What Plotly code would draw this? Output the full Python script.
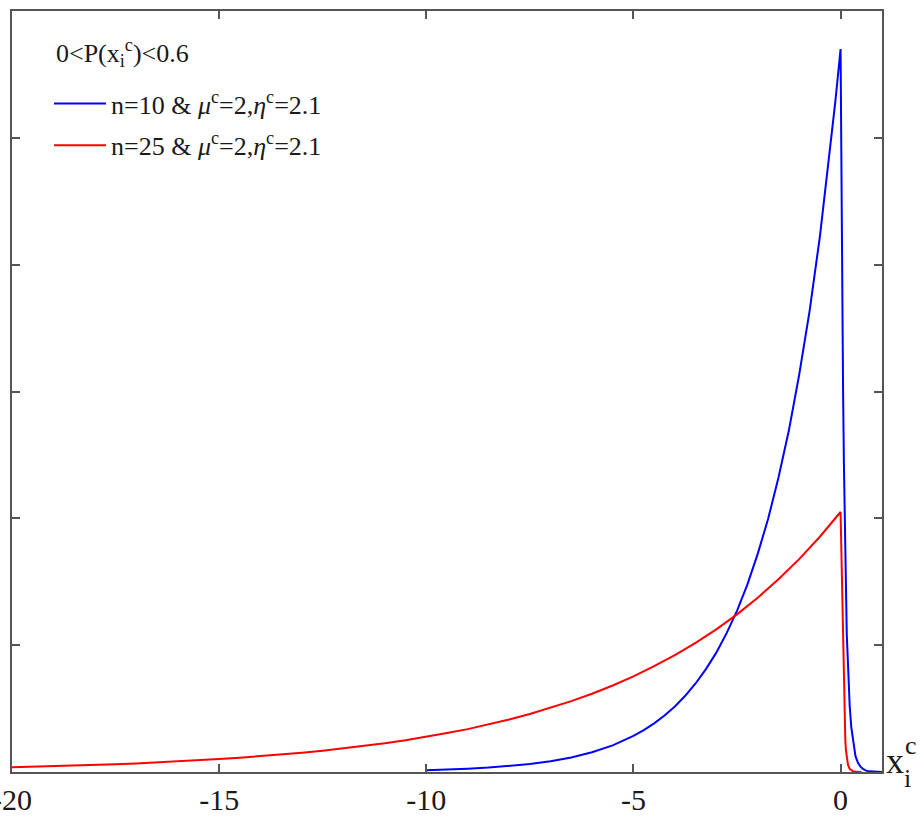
import plotly.graph_objects as go

# ---- data ----
blue_x = [-10, -9.5, -9, -8.5, -8, -7.5, -7, -6.5, -6, -5.5, -5, -4.75, -4.5, -4.25, -4,
          -3.75, -3.5, -3.25, -3, -2.75, -2.5, -2.25, -2, -1.75, -1.5, -1.25, -1, -0.75,
          -0.5, -0.25, -0.125, 0,
          0.02, 0.04, 0.06, 0.08, 0.1, 0.125, 0.15, 0.18, 0.22, 0.26, 0.3, 0.36, 0.42,
          0.48, 0.54, 0.62, 0.7, 0.85, 1.0]
blue_y = [0.0014, 0.0019, 0.0026, 0.0035, 0.0047, 0.0063, 0.0085, 0.0115, 0.0156, 0.021,
          0.0284, 0.033, 0.0383, 0.0445, 0.0517, 0.0601, 0.0698, 0.0811, 0.0941, 0.1095,
          0.127, 0.1477, 0.172, 0.1994, 0.232, 0.269, 0.313, 0.363, 0.422, 0.491, 0.529,
          0.57,
          0.461, 0.373, 0.302, 0.244, 0.195, 0.152, 0.108, 0.0845, 0.052, 0.035, 0.0256,
          0.0125, 0.0072, 0.0042, 0.0025, 0.0011, 0.0005, 0.0001, 0.0]

red_x = [-20, -19.5, -19, -18.5, -18, -17.5, -17, -16.5, -16, -15.5, -15, -14.5, -14,
         -13.5, -13, -12.5, -12, -11.5, -11, -10.5, -10, -9.5, -9, -8.5, -8, -7.5, -7,
         -6.5, -6, -5.5, -5, -4.5, -4, -3.5, -3, -2.5, -2, -1.5, -1, -0.5, 0,
         0.015, 0.03, 0.045, 0.06, 0.075, 0.09, 0.114, 0.13, 0.15, 0.18, 0.22, 0.3, 0.4, 0.5]
red_y = [0.00375, 0.00415, 0.0046, 0.00507, 0.0056, 0.00619, 0.0068, 0.00756, 0.0084,
         0.00924, 0.0102, 0.01128, 0.0125, 0.01378, 0.0152, 0.01683, 0.0186, 0.02056,
         0.0227, 0.0251, 0.0277, 0.0307, 0.0338, 0.0375, 0.0414, 0.0457, 0.0506, 0.0559,
         0.0617, 0.0682, 0.0754, 0.0834, 0.0921, 0.1018, 0.1125, 0.1243, 0.1374, 0.1519,
         0.1678, 0.1855, 0.205,
         0.178, 0.15, 0.125, 0.104, 0.075, 0.05, 0.0256, 0.017, 0.011, 0.0055, 0.0025,
         0.0006, 0.0001, 0.0]

x_ticks = [-20, -15, -10, -5, 0]
y_ticks = [0, 0.1, 0.2, 0.3, 0.4, 0.5, 0.6]

legend_title = "0&lt;P(x<sub>i</sub><sup>c</sup>)&lt;0.6"
name_blue = "n=10 &amp; <i>μ</i><sup>c</sup>=2,<i>η</i><sup>c</sup>=2.1"
name_red = "n=25 &amp; <i>μ</i><sup>c</sup>=2,<i>η</i><sup>c</sup>=2.1"

FONT = "Liberation Serif, Times New Roman, Times, serif"
AX = "#555555"
TXT = "#1a1a1a"

fig = go.Figure()
fig.add_trace(go.Scatter(x=blue_x, y=blue_y, mode="lines", name=name_blue,
                         legendgroup="a", line=dict(color="#0000FF", width=2)))
fig.add_trace(go.Scatter(x=red_x, y=red_y, mode="lines", name=name_red,
                         legendgroup="b", line=dict(color="#FF0000", width=2)))

W, H = 924, 816
L, R, T, B = 12, 42, 11, 44
pw = W - L - R
ph = H - T - B

def px(xp):
    return (xp - L) / pw

def py(yp):
    return 1 - (yp - T) / ph

fig.update_layout(
    width=W, height=H,
    margin=dict(l=L, r=R, t=T, b=B, autoexpand=False),
    paper_bgcolor="white", plot_bgcolor="white",
    font=dict(family=FONT, color=TXT),
    showlegend=True,
    legend=dict(
        x=px(49), y=py(80), xanchor="left", yanchor="top",
        bgcolor="rgba(0,0,0,0)", borderwidth=0,
        font=dict(family=FONT, size=26, color=TXT),
        itemwidth=52,
        tracegroupgap=5,
    ),
    xaxis=dict(
        range=[-20, 1], tickvals=x_ticks, ticktext=[str(v) for v in x_ticks],
        ticks="inside", ticklen=8, tickwidth=1.5, tickcolor=AX,
        showline=True, linecolor=AX, linewidth=1.5, mirror="ticks",
        showgrid=False, zeroline=False, ticklabeloverflow="allow", automargin=False,
        tickfont=dict(family=FONT, size=30, color=TXT),
    ),
    yaxis=dict(
        range=[0, 0.6], tickvals=y_ticks, showticklabels=False,
        ticks="inside", ticklen=8, tickwidth=1.5, tickcolor=AX,
        showline=True, linecolor=AX, linewidth=1.5, mirror="ticks",
        showgrid=False, zeroline=False, automargin=False,
    ),
)

# legend heading
fig.add_annotation(text=legend_title, xref="paper", yref="paper", x=px(54), y=py(53),
                   xanchor="left", yanchor="middle", showarrow=False,
                   font=dict(family=FONT, size=26, color=TXT))

# x-axis label x_i^c at the right end
fig.add_annotation(text="x", xref="paper", yref="paper", x=px(895), y=py(761),
                   xanchor="center", yanchor="middle",
                   showarrow=False, font=dict(family=FONT, size=36, color=TXT))
fig.add_annotation(text="c", xref="paper", yref="paper", x=px(911), y=py(745),
                   xanchor="center", yanchor="middle",
                   showarrow=False, font=dict(family=FONT, size=26, color=TXT))
fig.add_annotation(text="i", xref="paper", yref="paper", x=px(907), y=py(779),
                   xanchor="center", yanchor="middle",
                   showarrow=False, font=dict(family=FONT, size=26, color=TXT))

fig.write_html("out.html", config={"displayModeBar": False},
               post_script="document.body.style.margin='0px';")
